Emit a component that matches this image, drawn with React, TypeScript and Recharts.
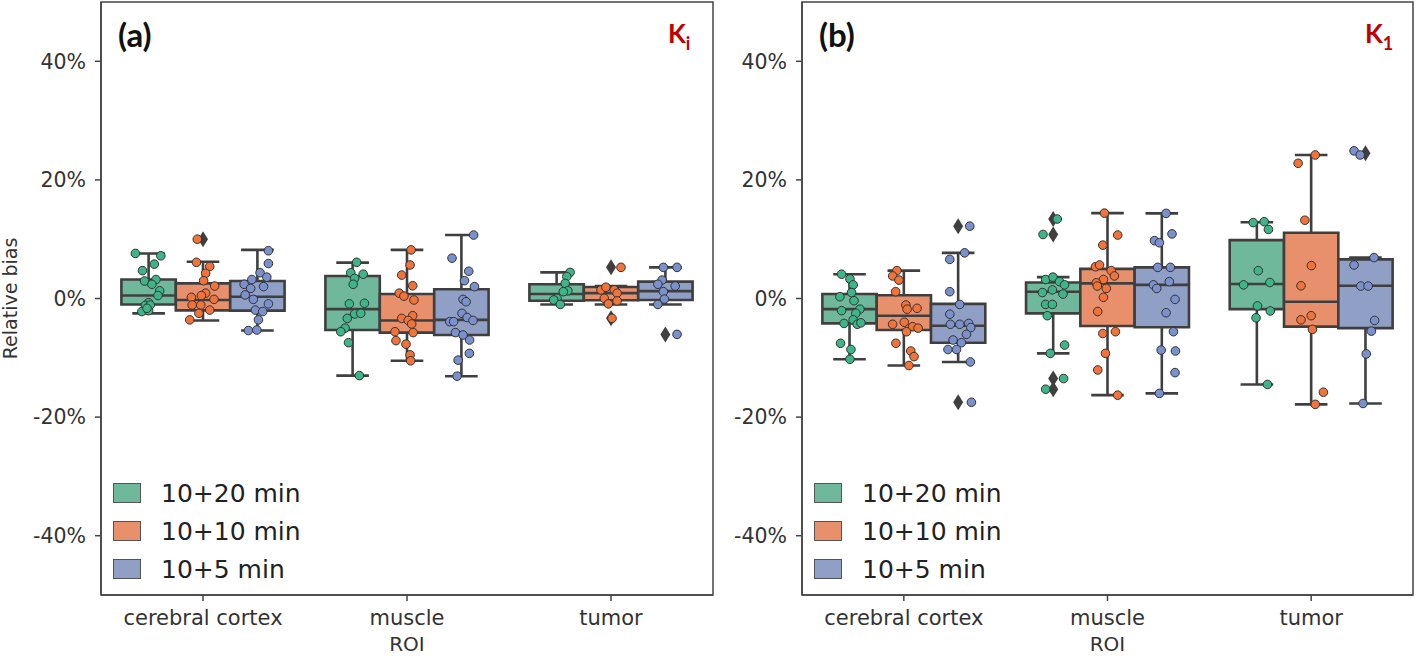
import React from 'react';
import { ScatterChart, Scatter, XAxis, YAxis, ReferenceArea, ReferenceLine, Legend } from 'recharts';

const categories = ['cerebral cortex', 'muscle', 'tumor'];
const hues = ['10+20 min', '10+10 min', '10+5 min'];
const yTicks = [-40, -20, 0, 20, 40];

// box stats per category: [whisker low, q1, median, q3, whisker high]
const kiBox20 = [[-2.5, -1.0, 0.5, 3.2, 7.6], [-13.0, -5.3, -1.8, 3.8, 6.05], [-1.0, -0.37, 0.75, 2.4, 4.4]];
const kiBox10 = [[-3.7, -2.0, -0.25, 2.55, 6.2], [-10.5, -5.75, -3.7, 0.75, 8.2], [-1.0, -0.3, 0.9, 1.95, 2.1]];
const kiBox5 = [[-5.4, -2.05, 0.3, 2.95, 8.2], [-13.1, -6.15, -3.6, 1.55, 10.7], [-1.0, -0.25, 1.25, 2.85, 5.25]];
const kiOut20 = [[], [], []];
const kiOut10 = [[10.0], [], [5.25, -3.35]];
const kiOut5 = [[], [], [-6.05]];

// points: [category, jitter, value]
const kiPts20 = [
  [0, -0.065, 7.6], [0, 0.06, 7.2], [0, 0.028, 5.8], [0, -0.03, 4.7], [0, -0.02, 2.95], [0, 0.036, 3.2], [0, 0.016, 2.4],
  [0, 0.054, 1.3], [0, 0.046, 0.5], [0, 0, -0.7], [0, -0.016, -1.15], [0, 0.008, -1.1], [0, -0.033, -2.2], [0, 0, -2.05], [0, -0.008, -1.65],
  [1, 0.02, 6.1], [1, -0.009, 4.35], [1, 0.052, 4.1], [1, 0.01, 3.4], [1, 0.003, 2.4], [1, -0.016, -0.9], [1, 0.058, -0.8],
  [1, 0.01, -2.6], [1, 0.04, -2.5], [1, -0.026, -3.35], [1, -0.037, -5.0], [1, -0.058, -5.6], [1, -0.02, -7.45], [1, 0.033, -13.0],
  [2, 0.066, 4.4], [2, 0.05, 3.7], [2, 0.042, 2.55], [2, 0.055, 1.3], [2, 0.033, 1.15], [2, 0.002, 0.03], [2, -0.014, -0.25], [2, 0.018, -1.0],
];
const kiPts10 = [
  [0, -0.028, 10.0], [0, -0.032, 6.1], [0, 0.033, 5.4], [0, 0.013, 4.25], [0, 0.003, 3.0], [0, 0.057, 2.1], [0, 0.013, 0.9],
  [0, -0.008, 0.5], [0, -0.057, 0.2], [0, 0.054, -0.15], [0, -0.053, -1.1], [0, -0.011, -1.1], [0, 0.033, -1.95], [0, -0.02, -2.5], [0, -0.065, -3.6],
  [1, 0.02, 8.2], [1, 0.015, 5.65], [1, -0.026, 3.95], [1, 0.028, 2.15], [1, -0.038, 0.9], [1, -0.015, 0.4], [1, 0.034, -0.25],
  [1, 0.028, -2.9], [1, -0.026, -3.35], [1, 0.006, -3.7], [1, 0.023, -4.3], [1, -0.059, -5.6], [1, 0.03, -5.75], [1, -0.054, -7.1],
  [1, -0.005, -7.7], [1, 0.015, -9.5], [1, 0.018, -10.5],
  [2, 0.049, 5.25], [2, -0.049, 1.45], [2, -0.025, 1.9], [2, 0.016, 1.45], [2, 0.03, 0.9], [2, -0.033, 0.03], [2, 0.03, -0.4], [2, -0.013, -0.9], [2, 0.005, -3.35],
];
const kiPts5 = [
  [0, 0.054, 8.05], [0, 0.054, 5.9], [0, 0.013, 4.35], [0, 0.046, 3.6], [0, -0.027, 3.2], [0, -0.065, 2.4], [0, -0.033, 1.7], [0, 0.03, 2.0],
  [0, -0.06, 0.6], [0, -0.02, -0.15], [0, 0.054, -0.9], [0, -0.01, -1.95], [0, 0.026, -2.2], [0, 0.005, -3.6], [0, -0.044, -5.4], [0, -0.003, -5.3],
  [1, 0.06, 10.7], [1, -0.046, 6.8], [1, 0.036, 4.6], [1, 0.015, 3.0], [1, 0.064, 2.0], [1, 0.008, -0.15], [1, 0.023, -0.55], [1, 0.003, -2.5],
  [1, 0.028, -3.2], [1, 0.057, -3.7], [1, -0.057, -3.9], [1, -0.038, -3.9], [1, -0.029, -5.75], [1, 0.008, -6.15], [1, 0.04, -7.0],
  [1, 0.039, -9.25], [1, -0.016, -10.4], [1, -0.021, -13.1],
  [2, 0.057, 5.25], [2, -0.01, 5.25], [2, -0.016, 3.1], [2, -0.037, 2.4], [2, 0.048, 2.1], [2, -0.01, 1.15], [2, -0.005, -0.1], [2, -0.037, -1.0], [2, 0.057, -6.05],
];

const k1Box20 = [[-10.25, -4.2, -1.8, 0.75, 4.1], [-9.25, -2.5, 1.15, 2.7, 3.6], [-14.5, -1.8, 2.45, 9.85, 12.85]];
const k1Box10 = [[-11.3, -5.3, -2.9, 0.55, 4.7], [-16.3, -4.65, 2.55, 5.0, 14.4], [-17.85, -4.75, -0.55, 11.1, 24.2]];
const k1Box5 = [[-10.7, -7.45, -4.6, -0.9, 7.7], [-16.0, -4.85, 2.3, 5.25, 14.35], [-17.7, -5.0, 2.15, 6.6, 6.9]];
const k1Out20 = [[], [13.4, 10.8, -13.5, -15.3], []];
const k1Out10 = [[], [], []];
const k1Out5 = [[12.2, -17.5], [], [24.5]];

const k1Pts20 = [
  [0, -0.039, 4.1], [0, 0.002, 3.3], [0, 0.018, 2.3], [0, 0.01, 1.0], [0, -0.047, 0.3], [0, 0.022, -0.37], [0, -0.039, -2.05], [0, 0.051, -1.8],
  [0, 0.031, -2.5], [0, 0.018, -3.6], [0, -0.027, -4.2], [0, 0.038, -4.35], [0, 0.056, -4.1], [0, -0.044, -7.55], [0, 0.007, -8.6], [0, 0.002, -10.25],
  [1, 0.02, 13.4], [1, -0.05, 10.8], [1, -0.037, 3.2], [1, -0.001, 3.6], [1, 0.031, 2.85], [1, 0.056, 2.3], [1, -0.053, 1.0], [1, -0.004, 1.45],
  [1, 0.048, 0.75], [1, -0.037, -1.0], [1, -0.004, -1.0], [1, -0.029, -2.9], [1, 0.056, -7.85], [1, -0.014, -9.25], [1, 0.051, -13.5], [1, -0.037, -15.3],
  [2, -0.018, 12.8], [2, 0.036, 12.95], [2, 0.057, 11.65], [2, 0.007, 4.7], [2, -0.065, 2.3], [2, 0.064, 2.7], [2, 0.003, -1.25], [2, 0.066, -2.1],
  [2, -0.004, -3.25], [2, 0.052, -14.5],
];
const k1Pts10 = [
  [0, -0.034, 4.7], [0, -0.055, 3.8], [0, -0.024, 3.1], [0, -0.04, 1.15], [0, 0.01, -1.1], [0, 0.016, -1.8], [0, 0.065, -1.65], [0, -0.055, -4.35],
  [0, 0.002, -4.0], [0, 0.043, -4.75], [0, 0.07, -5.0], [0, 0.013, -5.6], [0, -0.039, -7.55], [0, 0.034, -8.85], [0, 0.05, -9.8], [0, 0.025, -11.3],
  [1, -0.015, 14.4], [1, 0.05, 10.7], [1, -0.023, 9.0], [1, -0.059, 5.35], [1, -0.039, 5.65], [1, 0.018, 4.7], [1, 0.034, 3.8], [1, -0.02, 3.2],
  [1, -0.055, 2.65], [1, -0.05, 2.1], [1, -0.006, 1.7], [1, -0.02, 0.2], [1, -0.048, -2.2], [1, -0.023, -5.9], [1, 0.039, -5.6], [1, -0.01, -9.25],
  [1, -0.048, -12.05], [1, 0.05, -16.3],
  [2, 0.02, 24.2], [2, -0.064, 22.8], [2, -0.031, 13.2], [2, 0.001, 5.55], [2, -0.05, 2.15], [2, 0, -2.9], [2, -0.05, -3.6], [2, 0.006, -5.2],
  [2, 0.06, -15.8], [2, 0.02, -17.85],
];
const k1Pts5 = [
  [0, 0.057, 12.2], [0, 0.032, 7.7], [0, -0.041, 6.6], [0, -0.041, 1.15], [0, 0.008, -1.0], [0, -0.041, -2.65], [0, -0.038, -4.35], [0, 0.008, -4.35],
  [0, 0.052, -4.2], [0, 0.062, -4.9], [0, 0.041, -6.05], [0, -0.025, -7.0], [0, 0.016, -7.45], [0, -0.05, -8.6], [0, -0.008, -8.6], [0, 0.06, -10.7],
  [0, 0.065, -17.5],
  [1, 0.021, 14.35], [1, 0.05, 10.9], [1, -0.036, 9.75], [1, -0.012, 9.4], [1, -0.02, 5.25], [1, 0.042, 5.25], [1, 0.037, 2.85], [1, -0.041, 2.3],
  [1, -0.025, 1.7], [1, 0.065, -0.15], [1, 0.021, -2.4], [1, 0.057, -5.6], [1, -0.003, -8.7], [1, 0.067, -8.85], [1, 0.065, -12.5], [1, -0.012, -16.0],
  [2, -0.056, 24.9], [2, -0.026, 24.2], [2, 0.042, 6.9], [2, -0.056, 5.65], [2, -0.023, 2.1], [2, 0.013, 2.1], [2, 0.045, -3.7], [2, 0.029, -5.5],
  [2, 0.004, -9.35], [2, -0.012, -17.7],
];

const BOX_COLORS = ['#6fb89c', '#e8906c', '#909fc6'];
const PT_COLORS = ['#3db589', '#f2733a', '#7b91ce'];
const EDGE = '#3f3f3f';
const TEXT = '#333';
const FONT = '"DejaVu Sans", sans-serif';
const BW = 0.8 / 3;
const CAP = 0.08;

const hueX = (c: number, h: number) => c + 0.5 + (h - 1) * BW;

const dot = (color: string) => (p: any) => (
  <circle cx={p.cx} cy={p.cy} r={4.3} fill={color} stroke="#333" strokeWidth={1} />
);

const diamond = (p: any) => (
  <path d={`M${p.cx},${p.cy - 8}L${p.cx + 5},${p.cy}L${p.cx},${p.cy + 8}L${p.cx - 5},${p.cy}Z`} fill={EDGE} />
);

const LegendBox = () => (
  <div style={{ fontFamily: FONT, fontSize: 25, color: '#222' }}>
    {hues.map((h, i) => (
      <div key={h} style={{ display: 'flex', alignItems: 'center', height: 38 }}>
        <div style={{ width: 26, height: 18, background: BOX_COLORS[i], border: '1px solid #555', marginRight: 20 }} />
        <span>{h}</span>
      </div>
    ))}
  </div>
);

interface PanelProps {
  boxes: number[][][];
  outliers: number[][][];
  points: number[][][];
  width: number;
  yAxisWidth: number;
  yLabel?: string;
}

const Panel = ({ boxes, outliers, points, width, yAxisWidth, yLabel }: PanelProps) => {
  const stats: any[] = [];
  boxes.forEach((hb, h) =>
    hb.forEach(([lo, q1, med, q3, hi], c) => stats.push({ h, c, lo, q1, med, q3, hi, cx: hueX(c, h) }))
  );
  const outData = outliers.flatMap((ho, h) => ho.flatMap((vals, c) => vals.map((v) => ({ x: hueX(c, h), y: v }))));
  const line = { stroke: EDGE, strokeWidth: 2.6 };

  return (
    <ScatterChart width={width} height={658} margin={{ top: 2, right: 3, bottom: 0, left: 0 }}>
      <XAxis
        type="number"
        dataKey="x"
        domain={[0, 3]}
        ticks={[0.5, 1.5, 2.5]}
        tickFormatter={(v: number) => categories[Math.floor(v)]}
        allowDataOverflow
        height={63}
        tickSize={6}
        tickMargin={9}
        axisLine={{ stroke: '#444', strokeWidth: 1.5 }}
        tickLine={{ stroke: '#444', strokeWidth: 1.5 }}
        tick={{ fill: TEXT, fontSize: 21, fontFamily: FONT }}
        label={(props: any) => {
          const vb = props.viewBox;
          return (
            <text x={vb.x + vb.width / 2} y={vb.y + vb.height - 7} textAnchor="middle" fill={TEXT} fontSize={20} fontFamily={FONT}>
              ROI
            </text>
          );
        }}
      />
      <YAxis
        type="number"
        dataKey="y"
        domain={[-50, 50]}
        ticks={yTicks}
        allowDataOverflow
        width={yAxisWidth}
        tickSize={6}
        tickMargin={9}
        tickFormatter={(v: number) => `${v}%`}
        axisLine={{ stroke: '#444', strokeWidth: 1.5 }}
        tickLine={{ stroke: '#444', strokeWidth: 1.5 }}
        tick={{ fill: TEXT, fontSize: 20.5, fontFamily: FONT }}
        label={
          yLabel
            ? (props: any) => {
                const vb = props.viewBox;
                const cy = vb.y + vb.height / 2;
                return (
                  <text x={10} y={cy} transform={`rotate(-90 10 ${cy})`} textAnchor="middle" dominantBaseline="central" fill={TEXT} fontSize={19} fontFamily={FONT}>
                    {yLabel}
                  </text>
                );
              }
            : undefined
        }
      />
      <ReferenceArea x1={0} x2={3} y1={-50} y2={50} fill="none" stroke="#444" strokeWidth={1.5} />
      {stats.map((s) => (
        <ReferenceArea key={`b${s.h}${s.c}`} x1={s.cx - BW / 2} x2={s.cx + BW / 2} y1={s.q1} y2={s.q3} fill={BOX_COLORS[s.h]} fillOpacity={1} stroke={EDGE} strokeWidth={2.6} />
      ))}
      {stats.map((s) => [
        <ReferenceLine key={`wu${s.h}${s.c}`} segment={[{ x: s.cx, y: s.q3 }, { x: s.cx, y: s.hi }]} {...line} />,
        <ReferenceLine key={`wl${s.h}${s.c}`} segment={[{ x: s.cx, y: s.q1 }, { x: s.cx, y: s.lo }]} {...line} />,
        <ReferenceLine key={`cu${s.h}${s.c}`} segment={[{ x: s.cx - CAP, y: s.hi }, { x: s.cx + CAP, y: s.hi }]} {...line} />,
        <ReferenceLine key={`cl${s.h}${s.c}`} segment={[{ x: s.cx - CAP, y: s.lo }, { x: s.cx + CAP, y: s.lo }]} {...line} />,
        <ReferenceLine key={`m${s.h}${s.c}`} segment={[{ x: s.cx - BW / 2, y: s.med }, { x: s.cx + BW / 2, y: s.med }]} {...line} />,
      ])}
      <Scatter data={outData} shape={diamond} legendType="none" isAnimationActive={false} />
      {points.map((pts, h) => (
        <Scatter
          key={hues[h]}
          name={hues[h]}
          data={pts.map(([c, j, v]) => ({ x: hueX(c, h) + j, y: v }))}
          fill={BOX_COLORS[h]}
          shape={dot(PT_COLORS[h])}
          isAnimationActive={false}
        />
      ))}
      <Legend layout="vertical" align="center" verticalAlign="middle" wrapperStyle={{ top: 474, left: yAxisWidth + 12, width: 220 }} content={() => <LegendBox />} />
    </ScatterChart>
  );
};

const tag = { fontFamily: 'Lato, "Open Sans", sans-serif', fontWeight: 700 } as const;

const App = () => (
  <div style={{ position: 'absolute', left: 0, top: 0, width: 1416, height: 658, background: '#fff' }}>
    <div style={{ position: 'absolute', left: 0, top: 0 }}>
      <Panel boxes={[kiBox20, kiBox10, kiBox5]} outliers={[kiOut20, kiOut10, kiOut5]} points={[kiPts20, kiPts10, kiPts5]} width={716} yAxisWidth={101} yLabel="Relative bias" />
    </div>
    <div style={{ position: 'absolute', left: 716, top: 0 }}>
      <Panel boxes={[k1Box20, k1Box10, k1Box5]} outliers={[k1Out20, k1Out10, k1Out5]} points={[k1Pts20, k1Pts10, k1Pts5]} width={700} yAxisWidth={86} />
    </div>
    <svg width={1416} height={658} style={{ position: 'absolute', left: 0, top: 0, pointerEvents: 'none' }}>
      <text x={118} y={47} fontSize={33} fill="#111" {...tag}>(a)</text>
      <text x={819} y={47} fontSize={33} fill="#111" {...tag}>(b)</text>
      <text x={668} y={43} fontSize={26} fill="#c00000" {...tag}>
        K<tspan fontSize={18} dy={7}>i</tspan>
      </text>
      <text x={1365} y={43} fontSize={26} fill="#c00000" {...tag}>
        K<tspan fontSize={18} dy={7}>1</tspan>
      </text>
    </svg>
  </div>
);

export default App;
